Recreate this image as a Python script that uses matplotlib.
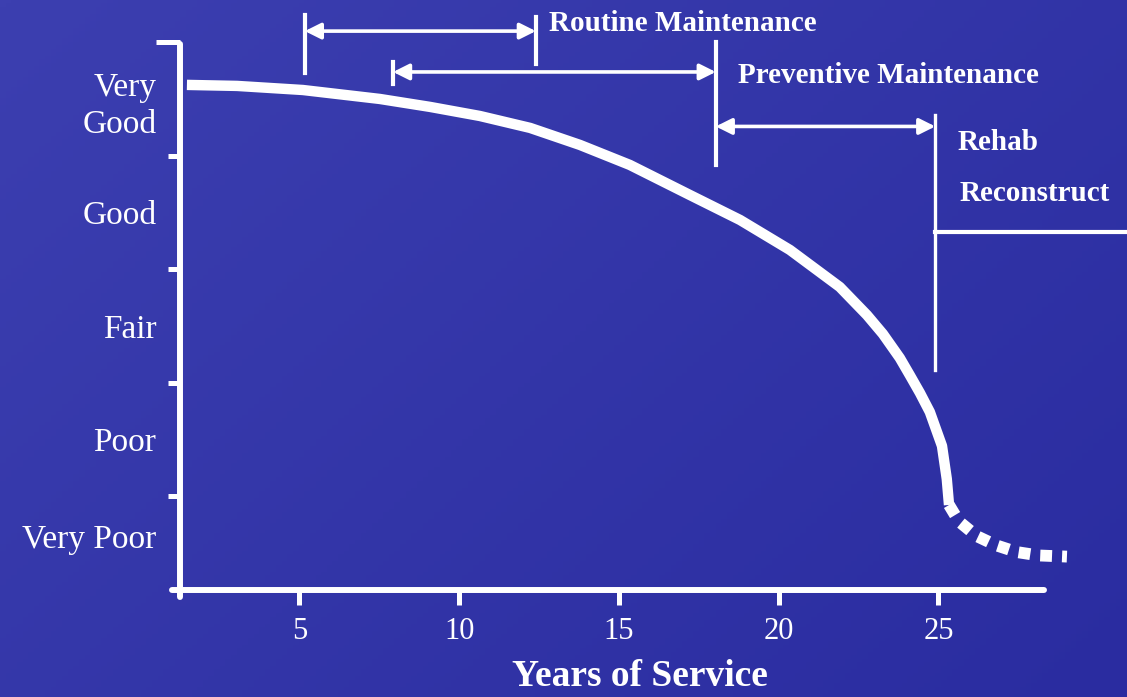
import numpy as np
import matplotlib
matplotlib.use('Agg')
import matplotlib.pyplot as plt

plt.rcParams['font.family'] = ['Liberation Serif', 'DejaVu Serif']

# 路面状况曲线
curve_years = [1.48, 3.05, 5.11, 7.52, 9.09, 10.65, 12.22, 13.78, 15.34, 17.22, 18.79, 20.35,
               21.91, 22.76, 23.26, 23.79, 24.10, 24.42, 24.73, 25.11, 25.26, 25.33]
curve_condition = [4.626, 4.617, 4.581, 4.502, 4.432, 4.352, 4.247, 4.097, 3.921, 3.656, 3.436, 3.172,
                   2.846, 2.599, 2.432, 2.220, 2.070, 1.912, 1.744, 1.445, 1.154, 0.925]

# 虚线尾部
tail_years = [25.33, 25.64, 26.20, 26.80, 27.45, 28.14, 29.02]
tail_condition = [0.925, 0.78, 0.65, 0.57, 0.51, 0.48, 0.47]

x_ticks = [5, 10, 15, 20, 25]
y_band_ticks = [1, 2, 3, 4, 5]
y_label_pos = [4.5, 3.5, 2.5, 1.5, 0.65]
y_labels = ['Very\nGood', 'Good', 'Fair', 'Poor', 'Very Poor']

# 养护阶段区间（年）
routine = (5.17, 12.4)
preventive = (7.93, 18.03)
rehab = (18.03, 24.9)

fig = plt.figure(figsize=(11.27, 6.97), dpi=100)
fig.patch.set_facecolor('#2F31A6')
ax = fig.add_axes([0, 0, 1, 1])
ax.set_xlim(-4.37, 30.9)
ax.set_ylim(-0.767, 5.374)

# 背景渐变
gx, gy = np.meshgrid(np.linspace(0, 1, 200), np.linspace(0, 1, 200))
grad = 0.6 * gx + 0.4 * gy
cmap = matplotlib.colors.LinearSegmentedColormap.from_list('bg', ['#3C3FB0', '#2A2CA0'])
ax.imshow(grad, extent=(-4.37, 30.9, -0.767, 5.374), aspect='auto', cmap=cmap, zorder=0, origin='upper')

# 坐标轴
for s in ['top', 'right']:
    ax.spines[s].set_visible(False)
ax.spines['left'].set_position(('data', 1.26))
ax.spines['bottom'].set_position(('data', 0.18))
ax.spines['left'].set_bounds(0.11, 4.99)
ax.spines['bottom'].set_bounds(1.0, 28.3)
for s in ['left', 'bottom']:
    ax.spines[s].set_color('white')
    ax.spines[s].set_linewidth(4.3)
    ax.spines[s].set_capstyle('round')

ax.set_xticks(x_ticks)
ax.set_xticklabels([str(t) for t in x_ticks])
ax.tick_params(axis='x', direction='out', length=11, width=3.6, color='white',
               labelcolor='white', labelsize=22, pad=9)

ax.set_yticks(y_band_ticks)
ax.set_yticklabels([])
ax.tick_params(axis='y', which='major', direction='out', length=9, width=3.6, color='white')
ax.set_yticks(y_label_pos, minor=True)
ax.set_yticklabels(y_labels, minor=True)
ax.tick_params(axis='y', which='minor', length=0, labelcolor='white', labelsize=24, pad=17)
for lbl in ax.get_yticklabels(minor=True):
    lbl.set_multialignment('right')
    lbl.set_linespacing(1.3)
ax.yaxis.get_major_ticks()[-1].tick1line.set_markersize(17)

# 曲线
ax.plot(curve_years, curve_condition, color='white', lw=7.5, solid_capstyle='butt',
        solid_joinstyle='round', zorder=3)
ax.plot(tail_years, tail_condition, color='white', lw=8.5, dashes=(1.0, 0.85), zorder=3)

# 区间标注
arrow_kw = dict(arrowstyle='<|-|>,head_length=0.8,head_width=0.4', color='white', lw=2.6,
                shrinkA=0, shrinkB=0, mutation_scale=12)
ax.annotate('', xy=(routine[1], 5.10), xytext=(routine[0], 5.10), arrowprops=arrow_kw)
ax.plot([routine[0]] * 2, [4.73, 5.24], color='white', lw=3)
ax.plot([routine[1]] * 2, [4.81, 5.22], color='white', lw=3)

ax.annotate('', xy=(preventive[1], 4.74), xytext=(preventive[0], 4.74), arrowprops=arrow_kw)
ax.plot([preventive[0]] * 2, [4.63, 4.83], color='white', lw=3)
ax.plot([preventive[1]] * 2, [3.92, 5.0], color='white', lw=3)

ax.annotate('', xy=(rehab[1], 4.26), xytext=(rehab[0], 4.26), arrowprops=arrow_kw)
ax.plot([rehab[1]] * 2, [2.11, 4.36], color='white', lw=2.4)
ax.plot([rehab[1], 30.9], [3.33, 3.33], color='white', lw=3)

bold = dict(color='white', fontsize=21, fontweight='bold', va='center', ha='left')
ax.text(12.81, 5.17, 'Routine Maintenance', **bold)
ax.text(18.72, 4.71, 'Preventive Maintenance', **bold)
ax.text(25.61, 4.12, 'Rehab', **bold)
ax.text(25.67, 3.67, 'Reconstruct', **bold)

ax.text(15.66, -0.59, 'Years of Service', color='white', fontsize=27, fontweight='bold',
        ha='center', va='center')

fig.savefig('out.png', dpi=100, facecolor=fig.get_facecolor())
